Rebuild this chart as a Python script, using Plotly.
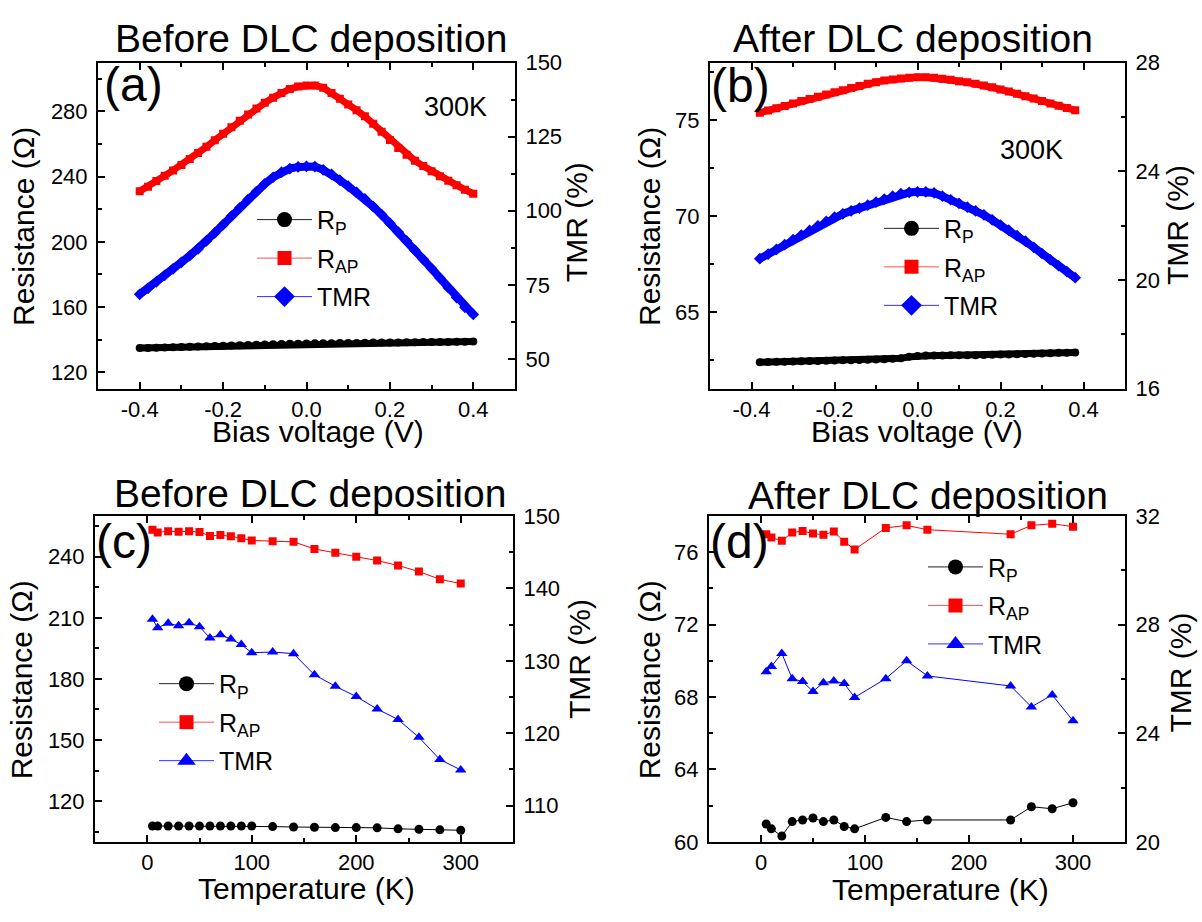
import plotly.graph_objects as go

W, H = 1202, 922
FONT = "Liberation Sans, Arial, Helvetica, sans-serif"

# ---------------- (a) bias dependence, before DLC ----------------
bias_a = [-0.40, -0.38, -0.36, -0.34, -0.32, -0.30, -0.28, -0.26, -0.24, -0.22,
          -0.20, -0.18, -0.16, -0.14, -0.12, -0.10, -0.08, -0.06, -0.04, -0.02,
          0.00, 0.02, 0.04, 0.06, 0.08, 0.10, 0.12, 0.14, 0.16, 0.18,
          0.20, 0.22, 0.24, 0.26, 0.28, 0.30, 0.32, 0.34, 0.36, 0.38, 0.40]
rp_a = [134.8, 134.9, 135.0, 135.2, 135.3, 135.5, 135.6, 135.8, 135.9, 136.1,
        136.2, 136.4, 136.5, 136.7, 136.8, 137.0, 137.1, 137.3, 137.4, 137.5,
        137.6, 137.7, 137.8, 137.8, 137.9, 138.0, 138.0, 138.1, 138.2, 138.2,
        138.3, 138.3, 138.4, 138.4, 138.5, 138.5, 138.6, 138.6, 138.7, 138.7, 138.8]
rap_a = [231.0, 233.8, 237.3, 240.5, 243.8, 247.2, 250.8, 254.5, 258.3, 262.3,
         266.3, 270.3, 274.3, 278.2, 281.9, 285.3, 288.5, 291.4, 293.8, 295.3,
         296.0, 296.0, 294.6, 291.4, 287.8, 284.3, 280.8, 277.0, 272.5, 267.5,
         262.5, 257.6, 253.5, 249.8, 246.5, 243.3, 240.3, 237.5, 234.8, 232.0, 229.5]
tmr_a = [71.8, 73.8, 76.0, 78.2, 80.4, 82.6, 84.8, 87.1, 89.8, 92.5,
         95.3, 98.2, 101.0, 103.8, 106.5, 109.1, 111.3, 113.0, 114.2, 114.8,
         115.0, 114.9, 113.8, 112.3, 110.3, 108.3, 106.2, 104.0, 101.4, 98.7,
         95.8, 92.8, 89.8, 86.7, 83.6, 80.5, 77.3, 74.0, 70.7, 67.4, 65.0]

# ---------------- (b) bias dependence, after DLC ----------------
bias_b = [-0.38, -0.36, -0.34, -0.32, -0.30, -0.28, -0.26, -0.24, -0.22, -0.20,
          -0.18, -0.16, -0.14, -0.12, -0.10, -0.08, -0.06, -0.04, -0.02, 0.00,
          0.02, 0.04, 0.06, 0.08, 0.10, 0.12, 0.14, 0.16, 0.18, 0.20,
          0.22, 0.24, 0.26, 0.28, 0.30, 0.32, 0.34, 0.36, 0.38]
rp_b = [62.37, 62.38, 62.39, 62.40, 62.41, 62.42, 62.43, 62.44, 62.45, 62.46,
        62.47, 62.48, 62.49, 62.50, 62.51, 62.53, 62.55, 62.58, 62.65, 62.70,
        62.72, 62.72, 62.72, 62.73, 62.73, 62.74, 62.74, 62.75, 62.76, 62.77,
        62.78, 62.79, 62.80, 62.81, 62.83, 62.84, 62.86, 62.87, 62.88]
rap_b = [75.38, 75.50, 75.62, 75.74, 75.87, 75.99, 76.10, 76.22, 76.34, 76.45,
         76.56, 76.67, 76.78, 76.89, 76.98, 77.06, 77.12, 77.17, 77.21, 77.24,
         77.24, 77.21, 77.16, 77.10, 77.03, 76.97, 76.90, 76.81, 76.71, 76.60,
         76.49, 76.37, 76.25, 76.13, 76.00, 75.87, 75.75, 75.63, 75.51]
tmr_b = [20.78, 20.95, 21.12, 21.30, 21.48, 21.65, 21.82, 21.99, 22.15, 22.31,
         22.43, 22.54, 22.64, 22.75, 22.86, 22.97, 23.08, 23.18, 23.22, 23.24,
         23.24, 23.20, 23.08, 22.95, 22.82, 22.68, 22.54, 22.39, 22.21, 22.02,
         21.83, 21.63, 21.43, 21.20, 20.97, 20.74, 20.52, 20.30, 20.08]

# ---------------- (c) temperature dependence, before DLC ----------------
temp_c = [5, 10, 20, 30, 40, 50, 60, 70, 80, 90, 100, 120, 140, 160, 180, 200,
          220, 240, 260, 280, 300]
rp_c = [107.8, 107.8, 107.8, 107.8, 107.8, 107.8, 107.8, 107.8, 107.8, 107.8,
        107.8, 107.5, 107.3, 107.2, 107.0, 107.0, 106.9, 106.4, 106.2, 105.9, 105.7]
rap_c = [253.2, 251.9, 252.5, 252.3, 252.5, 252.1, 250.2, 250.6, 250.0, 249.1,
         248.0, 247.6, 247.3, 243.8, 241.9, 240.0, 238.1, 235.7, 232.7, 228.9, 226.8]
tmr_c = [135.75, 134.58, 135.17, 134.85, 135.25, 134.71, 133.15, 133.59, 133.01,
         132.24, 131.12, 131.21, 130.99, 128.06, 126.49, 125.06, 123.34, 121.90,
         119.43, 116.37, 114.94]

# ---------------- (d) temperature dependence, after DLC ----------------
temp_d = [5, 10, 20, 30, 40, 50, 60, 70, 80, 90, 120, 140, 160, 240, 260, 280, 300]
rp_d = [60.99, 60.72, 60.32, 61.12, 61.21, 61.32, 61.12, 61.21, 60.85, 60.72,
        61.35, 61.12, 61.21, 61.21, 61.94, 61.83, 62.16]
rap_d = [76.99, 76.81, 76.63, 77.08, 77.17, 77.03, 76.96, 77.14, 76.58, 76.15,
         77.34, 77.48, 77.24, 76.99, 77.48, 77.57, 77.41]
tmr_d = [26.26, 26.46, 26.94, 26.01, 25.90, 25.54, 25.86, 25.92, 25.83, 25.32,
         26.01, 26.67, 26.11, 25.74, 24.97, 25.41, 24.46]

bias_ticks = [-0.4, -0.2, 0.0, 0.2, 0.4]
bias_ticktext = ["-0.4", "-0.2", "0.0", "0.2", "0.4"]
bias_minor = [-0.3, -0.1, 0.1, 0.3]


def px_x(x):
    return x / W


def px_y(y):
    return 1 - y / H


fig = go.Figure()

# panel frames in pixels: (left, right, top, bottom)
frames = {
    "a": (98, 515, 52, 387),
    "b": (710, 1125, 52, 387),
    "c": (95, 513, 518, 853),
    "d": (709, 1125, 518, 853),
}
axis_ids = {"a": ("x", "y", "y2"), "b": ("x2", "y3", "y4"),
            "c": ("x3", "y5", "y6"), "d": ("x4", "y7", "y8")}
legend_ids = {"a": "legend", "b": "legend2", "c": "legend3", "d": "legend4"}

RED = "#ff0000"
BLUE = "#0000ff"
BLACK = "#000000"


def dense(panel, x, y, color, symbol, size, right=False):
    xa, ya, ya2 = axis_ids[panel]
    fig.add_trace(go.Scatter(
        x=x, y=y, xaxis=xa, yaxis=ya2 if right else ya, mode="lines+markers",
        line=dict(color=color, width=size - 1),
        marker=dict(color=color, symbol=symbol, size=size, line=dict(width=0)),
        showlegend=False, hoverinfo="skip"))


def sparse(panel, x, y, color, symbol, size, right=False):
    xa, ya, ya2 = axis_ids[panel]
    fig.add_trace(go.Scatter(
        x=x, y=y, xaxis=xa, yaxis=ya2 if right else ya, mode="lines+markers",
        line=dict(color=color, width=1),
        marker=dict(color=color, symbol=symbol, size=size, line=dict(width=0)),
        showlegend=False, hoverinfo="skip"))


def legend_entries(panel, tmr_symbol):
    xa, ya, _ = axis_ids[panel]
    entries = [("R<sub>P</sub>", "#222222", BLACK, "circle", 15),
               ("R<sub>AP</sub>", "#ff5050", RED, "square", 14),
               ("TMR", "#3030ff", BLUE, tmr_symbol, 17)]
    for i, (name, lc, mc, sym, sz) in enumerate(entries):
        fig.add_trace(go.Scatter(
            x=[None], y=[None], xaxis=xa, yaxis=ya, mode="lines+markers",
            name=name, legend=legend_ids[panel], legendgroup=panel + str(i),
            line=dict(color=lc, width=1),
            marker=dict(color=mc, symbol=sym, size=sz, line=dict(width=0))))


# (a)
dense("a", bias_a, rp_a, BLACK, "circle", 8)
dense("a", bias_a, rap_a, RED, "square", 8)
dense("a", bias_a, tmr_a, BLUE, "diamond", 9, right=True)
legend_entries("a", "diamond")
# (b)
dense("b", bias_b, rp_b, BLACK, "circle", 8)
dense("b", bias_b, rap_b, RED, "square", 8)
dense("b", bias_b, tmr_b, BLUE, "diamond", 9, right=True)
legend_entries("b", "diamond")
# (c)
sparse("c", temp_c, rp_c, BLACK, "circle", 9)
sparse("c", temp_c, rap_c, RED, "square", 8)
sparse("c", temp_c, tmr_c, BLUE, "triangle-up", 10, right=True)
legend_entries("c", "triangle-up")
# (d)
sparse("d", temp_d, rp_d, BLACK, "circle", 9)
sparse("d", temp_d, rap_d, RED, "square", 8)
sparse("d", temp_d, tmr_d, BLUE, "triangle-up", 10, right=True)
legend_entries("d", "triangle-up")

TICKFONT = dict(family=FONT, size=22, color="black")


def base_axis(**kw):
    d = dict(showline=True, linecolor="black", linewidth=2, ticks="inside",
             ticklen=7, tickwidth=1.5, tickcolor="black", showgrid=False,
             zeroline=False, tickfont=TICKFONT, ticklabelstandoff=4)
    d.update(kw)
    return d


layout = {}
yranges = {
    "a": ((110, 310), 120, 40, 20, (40, 150), 50, 25, 12.5),
    "b": ((61, 78), 65, 5, 2.5, (16, 28), 16, 4, 2),
    "c": ((100, 260), 120, 30, 15, (105, 150), 110, 10, 5),
    "d": ((60, 78), 60, 4, 2, (20, 32), 20, 4, 2),
}
for n, p in enumerate("abcd"):
    l, r, t, b = frames[p]
    xa, ya, ya2 = axis_ids[p]
    xkey = "xaxis" if xa == "x" else "xaxis" + xa[1:]
    ykey = "yaxis" if ya == "y" else "yaxis" + ya[1:]
    y2key = "yaxis" + ya2[1:]
    if p in "ab":
        xax = base_axis(range=[-0.5, 0.5], tickmode="array", tickvals=bias_ticks,
                        ticktext=bias_ticktext,
                        minor=dict(ticks="inside", ticklen=4, tickwidth=1.5,
                                   tickcolor="black", tickmode="array",
                                   tickvals=bias_minor))
    else:
        xax = base_axis(range=[-50, 350], tick0=0, dtick=100,
                        minor=dict(ticks="inside", ticklen=4, tickwidth=1.5,
                                   tickcolor="black", dtick=50))
    xax.update(domain=[px_x(l), px_x(r)], anchor=ya, mirror="ticks",
               ticklabelstandoff=0)
    layout[xkey] = xax
    rng, t0, dt, mdt, rng2, t02, dt2, mdt2 = yranges[p]
    yax = base_axis(range=list(rng), tick0=t0, dtick=dt,
                    minor=dict(ticks="inside", ticklen=4, tickwidth=1.5,
                               tickcolor="black", dtick=mdt, tick0=t0),
                    domain=[px_y(b), px_y(t)], anchor=xa)
    layout[ykey] = yax
    y2ax = base_axis(range=list(rng2), tick0=t02, dtick=dt2,
                     minor=dict(ticks="inside", ticklen=4, tickwidth=1.5,
                                tickcolor="black", dtick=mdt2, tick0=t02),
                     overlaying=ya, side="right", anchor=xa)
    layout[y2key] = y2ax

# legends (top-left pixel positions)
legend_pos = {"a": (252, 190), "b": (879, 199), "c": (154, 667), "d": (923, 547)}
for p, (lx, ly) in legend_pos.items():
    layout[legend_ids[p]] = dict(
        x=px_x(lx), y=px_y(ly), xanchor="left", yanchor="top",
        xref="paper", yref="paper", bgcolor="rgba(0,0,0,0)", borderwidth=0,
        font=dict(family=FONT, size=25, color="black"), itemwidth=55,
        tracegroupgap=3, itemsizing="trace")

annotations = []


def text(x, y, s, size, angle=0, xanchor="center"):
    annotations.append(dict(
        x=px_x(x), y=px_y(y), xref="paper", yref="paper", text=s,
        showarrow=False, textangle=angle, xanchor=xanchor, yanchor="middle",
        font=dict(family=FONT, size=size, color="black")))


# titles
text(311, 27, "Before DLC deposition", 39)
text(913, 27, "After DLC deposition", 39)
text(310, 495, "Before DLC deposition", 39)
text(928, 497, "After DLC deposition", 39)
# panel labels
text(102, 75, "(a)", 48, xanchor="left")
text(709, 76, "(b)", 48, xanchor="left")
text(94, 544, "(c)", 48, xanchor="left")
text(708, 544, "(d)", 48, xanchor="left")
# temperature notes
text(455, 98, "300K", 27)
text(1031, 142, "300K", 27)
# axis titles
text(318, 431, "Bias voltage (V)", 30)
text(917, 431, "Bias voltage (V)", 30)
text(306, 901, "Temperature (K)", 30)
text(940, 902, "Temperature (K)", 30)
text(23, 221, "Resistance (\u03a9)", 30, angle=-90)
text(649, 221, "Resistance (\u03a9)", 30, angle=-90)
text(21, 687, "Resistance (\u03a9)", 30, angle=-90)
text(649, 687, "Resistance (\u03a9)", 30, angle=-90)
text(576, 216, "TMR (%)", 30, angle=-90)
text(1177, 219, "TMR (%)", 30, angle=-90)
text(580, 665, "TMR (%)", 30, angle=-90)
text(1181, 679, "TMR (%)", 30, angle=-90)

fig.update_layout(
    width=W, height=H, margin=dict(l=0, r=0, t=0, b=0),
    paper_bgcolor="white", plot_bgcolor="white",
    font=dict(family=FONT, color="black"),
    annotations=annotations, **layout)

fig.write_html("out.html")
